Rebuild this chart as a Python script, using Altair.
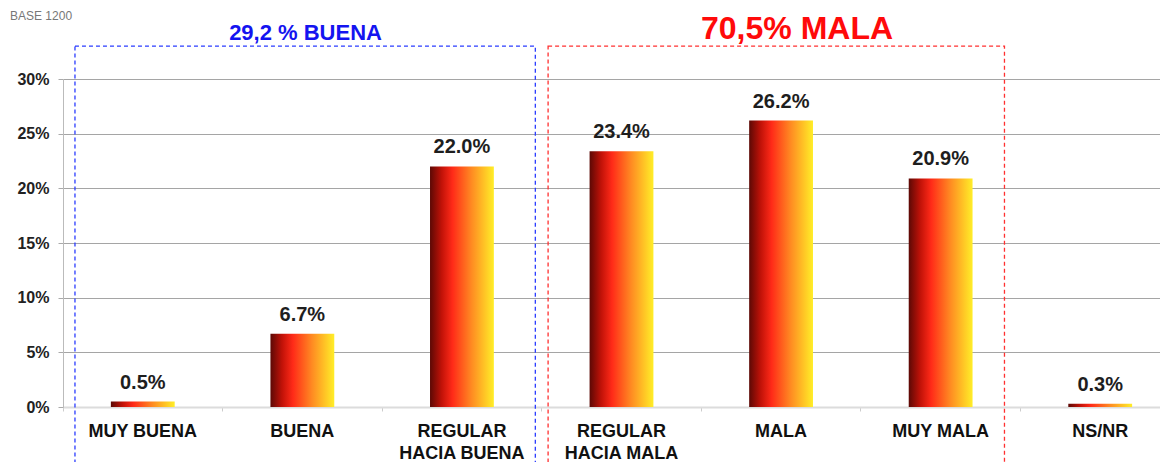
import altair as alt
import pandas as pd

categories = ["MUY BUENA", "BUENA", "REGULAR\nHACIA BUENA", "REGULAR\nHACIA MALA",
              "MALA", "MUY MALA", "NS/NR"]
values = [0.5, 6.7, 22.0, 23.4, 26.2, 20.9, 0.3]

group_labels = ["29,2 % BUENA", "70,5% MALA"]
group_colors = ["#2b3cff", "#ff3030"]
group_text_colors = ["#1414f0", "#ff0a0a"]
group_start = [0.075, 3.04]   # in category units
group_end = [2.96, 5.9]
group_text_x = [1.52, 4.6]
group_text_y = [34.2, 34.6]
group_text_size = [22, 32]
box_top = [33.0, 33.0]
box_bottom = [-8.0, -8.0]

note_text = ["BASE 1200"]
note_x = [-0.332]
note_y = [35.8]

W_VIEW = 1097      # visible plot width
W_SCALE = 1117     # full width of the category scale (cropped at right)
H = 328
FONT = "Liberation Sans"

df = pd.DataFrame({"cat": categories, "val": values})
df["lbl"] = [f"{v:.1f}%" for v in values]
boxes = pd.DataFrame({"x0": group_start, "x1": group_end, "y0": box_bottom,
                      "y1": box_top, "col": group_colors})
gtext = pd.DataFrame({"x": group_text_x, "y": group_text_y, "t": group_labels,
                      "col": group_text_colors, "s": group_text_size})
notes = pd.DataFrame({"x": note_x, "y": note_y, "t": note_text})

xband = alt.Scale(domain=categories, paddingInner=0, paddingOuter=0, range=[0, W_SCALE])
yscale = alt.Scale(domain=[0, 30], nice=False, zero=True)
qx = alt.Scale(domain=[0, 7], nice=False, zero=False, range=[0, W_SCALE])

grad = alt.Gradient(
    gradient="linear", x1=0, x2=1, y1=0, y2=0,
    stops=[
        alt.GradientStop(color="#5c0905", offset=0),
        alt.GradientStop(color="#c01208", offset=0.18),
        alt.GradientStop(color="#ff2a18", offset=0.35),
        alt.GradientStop(color="#ff8a22", offset=0.65),
        alt.GradientStop(color="#ffee28", offset=1),
    ],
)

bars = alt.Chart(df).mark_bar(fill=grad, width=alt.RelativeBandSize(0.4)).encode(
    x=alt.X("cat:N", scale=xband, sort=categories,
            axis=alt.Axis(title=None, labelAngle=0, bandPosition=0,
                          labelExpr="split(datum.label, '\\n')",
                          labelFont=FONT, labelFontSize=18, labelFontWeight="bold",
                          labelColor="#111111", labelPadding=11, labelLineHeight=22,
                          labelBaseline="top", labelLimit=0, labelOverlap=False,
                          labelBound=False, domainColor="#dcdcdc", domainWidth=2,
                          tickColor="#cccccc", tickSize=4, grid=False)),
    y=alt.Y("val:Q", scale=yscale,
            axis=alt.Axis(title=None, values=[0, 5, 10, 15, 20, 25, 30],
                          labelExpr="datum.value + '%'", labelFont=FONT,
                          labelFontSize=16, labelFontWeight="bold", labelColor="#222222",
                          labelPadding=9, grid=True, gridColor="#a5a5a5", gridWidth=1.2,
                          domainColor="#bbbbbb", tickColor="#aaaaaa", tickSize=5)),
)

texts = alt.Chart(df).mark_text(font=FONT, fontSize=20, fontWeight="bold",
                                color="#1e1e1e", baseline="alphabetic", dy=-13).encode(
    x=alt.X("cat:N", scale=xband, sort=categories, axis=None),
    y=alt.Y("val:Q", scale=yscale),
    text="lbl:N",
)

rects = alt.Chart(boxes).mark_rect(filled=False, strokeDash=[4, 3], strokeWidth=1.3).encode(
    x=alt.X("x0:Q", scale=qx, axis=None),
    x2="x1:Q",
    y=alt.Y("y0:Q", scale=yscale),
    y2="y1:Q",
    stroke=alt.Stroke("col:N", scale=None),
)

gt = alt.Chart(gtext).mark_text(font=FONT, fontWeight="bold", baseline="middle").encode(
    x=alt.X("x:Q", scale=qx, axis=None),
    y=alt.Y("y:Q", scale=yscale),
    text="t:N",
    color=alt.Color("col:N", scale=None),
    size=alt.Size("s:Q", scale=None),
)

note = alt.Chart(notes).mark_text(font=FONT, fontSize=12, color="#777777",
                                  align="left", baseline="middle").encode(
    x=alt.X("x:Q", scale=qx, axis=None),
    y=alt.Y("y:Q", scale=yscale),
    text="t:N",
)

chart = alt.layer(bars, texts, rects, gt, note).resolve_scale(x="independent").properties(
    width=W_VIEW, height=H,
    padding={"left": 55, "top": 71, "right": 0, "bottom": 55},
    autosize=alt.AutoSizeParams(type="none"),
).configure_view(stroke=None)

chart.save("out.html", embed_options={"renderer": "svg", "actions": False})
